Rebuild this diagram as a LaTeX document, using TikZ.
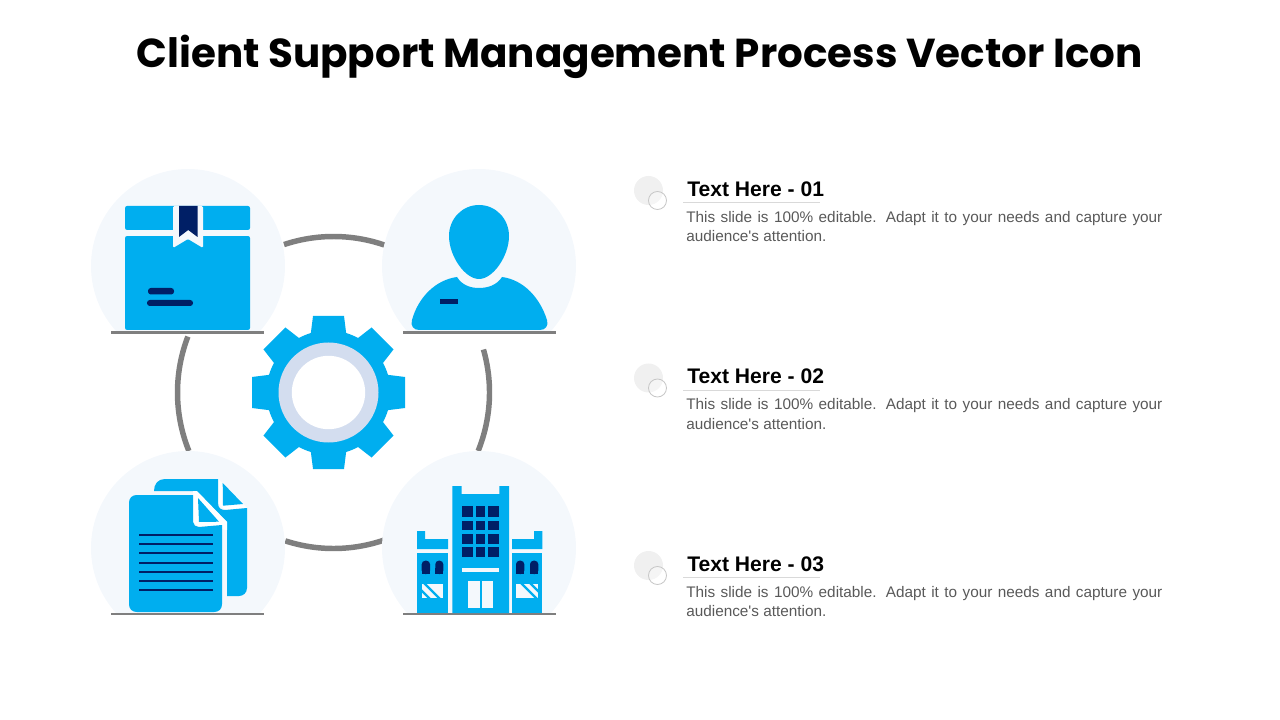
\documentclass[tikz,border=0pt]{standalone}
\usepackage{fontspec}
\setmainfont{Liberation Sans}
\newfontfamily\titlefont{Poppins}
\definecolor{iconblue}{HTML}{00AEEF}
\definecolor{iconnavy}{HTML}{001F66}
\definecolor{palecircle}{HTML}{F4F8FC}
\definecolor{gearring}{HTML}{D3DDEF}
\definecolor{linegray}{HTML}{7F7F7F}
\definecolor{bodygray}{HTML}{595959}
\newcommand{\nohyph}{\hyphenpenalty=10000\relax\exhyphenpenalty=10000\relax}
\tikzset{
  ringline/.style={draw=linegray, line width=3.9pt},
  baseline/.style={draw=linegray, line width=2pt},
  heading/.style={anchor=west, inner sep=0pt, font=\fontsize{15}{17}\selectfont\bfseries},
  bodytext/.style={anchor=north west, inner sep=0pt, text=bodygray, align=justify, text width=11.9cm,
    font=\fontsize{10.9}{13.8}\selectfont},
  dotback/.style={fill=black!6},
  dotfront/.style={draw=black!22, line width=0.6pt, fill=white, fill opacity=0.35},
  rule/.style={draw=black!15, line width=0.6pt},
}
\begin{document}
\begin{tikzpicture}[x=0.025cm, y=-0.025cm]
\useasboundingbox (0,0) rectangle (1280,720);

% Title
\node[font=\titlefont\bfseries\fontsize{28.75}{36}\selectfont] (title) at (639.5,57) {Client Support Management Process Vector Icon};

% Ring behind the icons
\draw[ringline] (333.5,392.5) ++(-108.5:156) arc[start angle=-108.5, end angle=-71, radius=156];
\draw[ringline] (333.5,392.5) ++(-16:156) arc[start angle=-16, end angle=22, radius=156];
\draw[ringline] (333.5,392.5) ++(71:156) arc[start angle=71, end angle=108, radius=156];
\draw[ringline] (333.5,392.5) ++(158:156) arc[start angle=158, end angle=201, radius=156];

% Pale circles, cut at their base lines
\begin{scope}
\clip (0,0) rectangle (1280,333);
\fill[palecircle] (188,266) circle (97);
\fill[palecircle] (479,266) circle (97);
\end{scope}
\begin{scope}
\clip (0,400) rectangle (1280,614);
\fill[palecircle] (188,548) circle (97);
\fill[palecircle] (479,548) circle (97);
\end{scope}
\draw[baseline] (111,332.5) -- (264,332.5);
\draw[baseline] (403,332.5) -- (556,332.5);
\draw[baseline] (111,614) -- (264,614);
\draw[baseline] (403,614) -- (556,614);

% Gear
\fill[iconblue] (328.5,392.5) circle (62);
\foreach \a in {0,45,...,315}
  \fill[iconblue, shift={(328.5,392.5)}, rotate=\a] (-10,-50) -- (-17.7,-59) -- (-15.5,-76.5) -- (15.5,-76.5) -- (17.7,-59) -- (10,-50) -- cycle;
\fill[gearring] (328.5,392.5) circle (50);
\fill[white] (328.5,392.5) circle (36.7);

% Box
\fill[iconblue, rounded corners=1.5pt] (125,230) -- (125,206) -- (250,206) -- (250,230) -- cycle;
\fill[iconblue, rounded corners=1.5pt] (125,236) -- (250,236) -- (250,330) -- (125,330) -- cycle;
\fill[palecircle] (125,230) rectangle (250,236);
\fill[palecircle, rounded corners=1pt] (173,206) -- (203,206) -- (203,248) -- (188,239) -- (173,248) -- cycle;
\fill[iconnavy] (179,206) -- (197.5,206) -- (197.5,237) -- (188.2,230) -- (179,237) -- cycle;
\fill[iconnavy, rounded corners=2pt] (148,288) rectangle (174,294.5);
\fill[iconnavy, rounded corners=2pt] (147,300) rectangle (193,306);

% Person
\fill[iconblue] (479,205) .. controls (462,205) and (449,219) .. (449,236) .. controls (449,256) and (465,279) .. (479,279) .. controls (493,279) and (509,256) .. (509,236) .. controls (509,219) and (496,205) .. (479,205) -- cycle;
\fill[iconblue] (457,277) .. controls (462,285) and (470,288) .. (479,288) .. controls (488,288) and (497,285) .. (502,277) .. controls (524,280) and (540,298) .. (547,320) .. controls (549,326) and (545,330) .. (540,330) -- (419,330) .. controls (414,330) and (410,326) .. (412,320) .. controls (418,298) and (435,280) .. (457,277) -- cycle;
\fill[iconnavy] (440,299) rectangle (458,304);

% Documents
\fill[white] (218,479) -- (247,508) -- (225,510) -- (218,503) -- cycle;
\fill[iconblue] (154,491) .. controls (154,484) and (158,479) .. (165,479) -- (218,479) -- (218,503) .. controls (218,508) and (221,510) .. (225,510) -- (247,508) -- (247,588) .. controls (247,593) and (243,596) .. (239,596) -- (227,596) -- (227,522) -- (196,491) -- cycle;
\fill[iconblue] (222.7,483) -- (243,504) -- (223,505.7) -- cycle;
\fill[white] (193,491) -- (197,491) -- (227,522) -- (227,530) -- (199,527) -- (193,522) -- cycle;
\fill[iconblue] (129,503) .. controls (129,498) and (132,495) .. (137,495) -- (193,495) -- (193,522) .. controls (193,525) and (196,527) .. (199,527) -- (222,525) -- (222,604) .. controls (222,609) and (219,612) .. (214,612) -- (137,612) .. controls (132,612) and (129,609) .. (129,604) -- cycle;
\fill[iconblue] (198,498) -- (219,521.7) -- (199,522) -- cycle;
\foreach \y in {535,544.3,553.3,562.7,571.7,580.7,590.3}
  \draw[iconnavy, line width=1.6pt] (139,\y) -- (213,\y);

% Building
\fill[iconblue] (452.3,613) -- (452.3,486) -- (461.7,486) -- (461.7,494) -- (499.3,494) -- (499.3,486) -- (509,486) -- (509,613) -- cycle;
\foreach \cx/\cw in {461.7/11, 476/9, 488/11.3}
  \foreach \ry/\rh in {506/11.3, 520.7/9.3, 533.7/10.3, 546.7/10.6}
    \fill[iconnavy] (\cx,\ry) rectangle +(\cw,\rh);
\fill[palecircle] (461.7,567.7) rectangle (499.3,572);
\fill[palecircle] (468,581.3) rectangle (479.7,608.3);
\fill[palecircle] (482,581.3) rectangle (492.7,608.3);
% left wing
\fill[iconblue] (417,549) -- (417,531) -- (425,531) -- (425,539) -- (448,539) -- (448,549) -- cycle;
\fill[iconblue] (417,553) rectangle (448,613);
\fill[iconnavy, rounded corners=2.5pt] (421.7,574) -- (421.7,560.7) -- (430,560.7) -- (430,574) -- cycle;
\fill[iconnavy, rounded corners=2.5pt] (435.3,574) -- (435.3,560.7) -- (443.3,560.7) -- (443.3,574) -- cycle;
\fill[iconnavy] (421.7,568) rectangle (430,574);
\fill[iconnavy] (435.3,568) rectangle (443.3,574);
\fill[palecircle] (421.7,584) rectangle (443.3,598.3);
\begin{scope}
\clip (421.7,584) rectangle (443.3,598.3);
\draw[iconblue, line width=1.6pt] (424,583) -- (440,599);
\draw[iconblue, line width=1.6pt] (420,589) -- (430,599);
\end{scope}
% right wing
\fill[iconblue] (542.3,549) -- (542.3,531) -- (534,531) -- (534,539) -- (512,539) -- (512,549) -- cycle;
\fill[iconblue] (512,553) rectangle (542.3,613);
\fill[iconnavy, rounded corners=2.5pt] (516,574) -- (516,560.7) -- (524.3,560.7) -- (524.3,574) -- cycle;
\fill[iconnavy, rounded corners=2.5pt] (530,574) -- (530,560.7) -- (538.3,560.7) -- (538.3,574) -- cycle;
\fill[iconnavy] (516,568) rectangle (524.3,574);
\fill[iconnavy] (530,568) rectangle (538.3,574);
\fill[palecircle] (516,584) rectangle (538.3,598.3);
\begin{scope}
\clip (516,584) rectangle (538.3,598.3);
\draw[iconblue, line width=1.6pt] (521,583) -- (537,599);
\draw[iconblue, line width=1.6pt] (530,583) -- (546,599);
\end{scope}

% Text rows
\fill[dotback] (648.5,190.5) circle (14.5);
\draw[dotfront] (657.5,200.5) circle (9);
\draw[rule] (683,202.5) -- (820,202.5);
\node[heading] (headone) at (687,189) {Text Here - 01};
\node[bodytext] (bodyone) at (686,211) {\nohyph This slide is 100\% editable. Adapt it to your needs and capture your audience\textquotesingle s attention.};

\fill[dotback] (648.5,378) circle (14.5);
\draw[dotfront] (657.5,388) circle (9);
\draw[rule] (683,390) -- (820,390);
\node[heading] (headtwo) at (687,376) {Text Here - 02};
\node[bodytext] (bodytwo) at (686,398.5) {\nohyph This slide is 100\% editable. Adapt it to your needs and capture your audience\textquotesingle s attention.};

\fill[dotback] (648.5,565.5) circle (14.5);
\draw[dotfront] (657.5,575.5) circle (9);
\draw[rule] (683,577.5) -- (820,577.5);
\node[heading] (headthree) at (687,564) {Text Here - 03};
\node[bodytext] (bodythree) at (686,586) {\nohyph This slide is 100\% editable. Adapt it to your needs and capture your audience\textquotesingle s attention.};
\end{tikzpicture}
\end{document}
